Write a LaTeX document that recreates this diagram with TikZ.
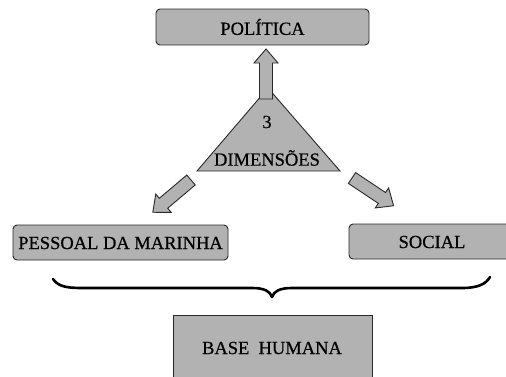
\documentclass[tikz,border=0pt]{standalone}
\usepackage{fontspec}
\setmainfont{Liberation Serif}
\newfontfamily\tnrfont[FakeBold=0.6]{Liberation Serif}
\definecolor{boxgray}{RGB}{178,178,178}
\definecolor{edgegray}{RGB}{40,40,40}
\tikzset{
  lbl/.style={font=\tnrfont\fontsize{18.5}{20}\selectfont, text=black, inner sep=0pt},
  rbox/.style={draw=edgegray, fill=boxgray, line width=0.9pt, rounded corners=4pt},
  sbox/.style={draw=edgegray, fill=boxgray, line width=0.9pt},
  bracepath/.style={draw=black, line width=2.6pt, line cap=round, line join=round},
  blockarr/.pic={
    \draw[draw=edgegray, fill=boxgray, line width=0.9pt, line join=miter]
      (0,-6.5) -- (36,-6.5) -- (36,-12) -- (50,0) -- (36,12) -- (36,6.5) -- (0,6.5) -- cycle;
  }
}
\begin{document}
\begin{tikzpicture}[x=1pt,y=-1pt]
\useasboundingbox (0,0) rectangle (506,376);
\clip (0,0) rectangle (506,376);
% boxes
\draw[rbox] (156,9) rectangle (369,45);
\node[lbl] (pol) at (262.5,27) {POLÍTICA};
\draw[rbox] (13,225) rectangle (228,260);
\node[lbl] (pes) at (120.5,243) {PESSOAL DA MARINHA};
\draw[rbox] (349,224) rectangle (520,259);
\node[lbl] (soc) at (432,242) {SOCIAL};
\draw[sbox] (173,315) rectangle (372,385);
\node[lbl] (base) at (272,348) {BASE\ \ HUMANA};
% triangle
\draw[sbox, line join=miter] (197,171) -- (268,88) -- (340,171) -- cycle;
\node[lbl] (three) at (267,122) {3};
\node[lbl] (dim) at (267,158) {DIMENSÕES};
% block arrows
\coordinate (upTail) at (266,99);
\coordinate (leftTail) at (191,180);
\coordinate (rightTail) at (352,178);
\pic[rotate=90] (upArrow) at (upTail) {blockarr};
\pic[rotate=220.2] (leftArrow) at (leftTail) {blockarr};
\pic[rotate=-33.7] (rightArrow) at (rightTail) {blockarr};
% brace
\coordinate (braceL) at (53,279);
\coordinate (braceM) at (272,297);
\coordinate (braceR) at (490,277);
\draw[bracepath] (braceL) .. controls (58,286) and (65,288) .. (82,288) -- (252,288)
  .. controls (264,288) and (270,291) .. (braceM)
  .. controls (274,291) and (280,288) .. (292,288) -- (462,288)
  .. controls (478,288) and (486,284) .. (braceR);
\end{tikzpicture}
\end{document}
